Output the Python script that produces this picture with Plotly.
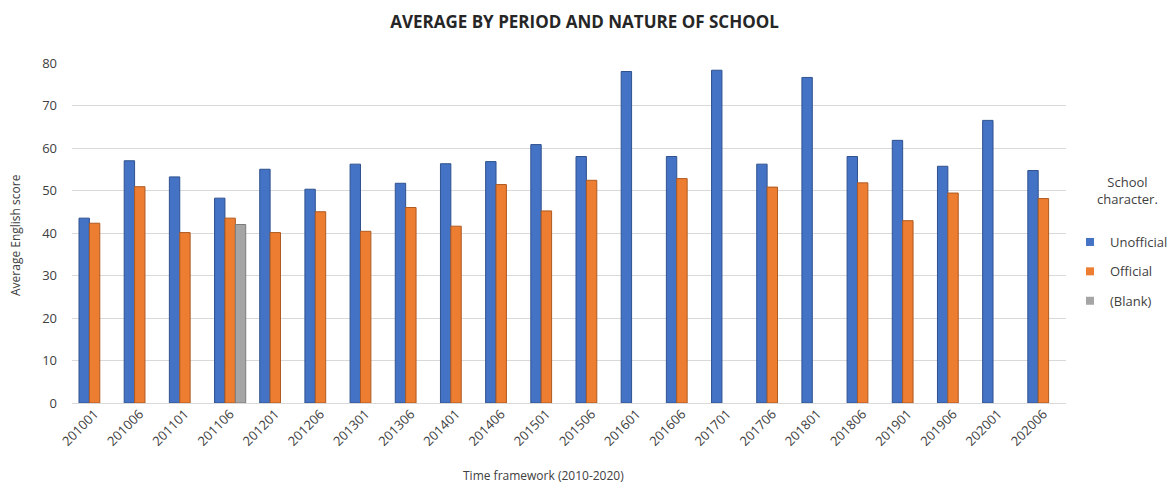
import plotly.graph_objects as go

# Exam periods (YYYYMM) along the category axis
periods = ["201001", "201006", "201101", "201106", "201201", "201206", "201301",
           "201306", "201401", "201406", "201501", "201506", "201601", "201606",
           "201701", "201706", "201801", "201806", "201901", "201906", "202001",
           "202006"]

# Average English score per school character
unofficial = [43.5, 57.0, 53.2, 48.2, 55.0, 50.3, 56.2, 51.7, 56.3, 56.8, 60.8,
              58.0, 78.0, 58.0, 78.3, 56.2, 76.6, 58.0, 61.8, 55.7, 66.5, 54.7]
official = [42.3, 50.9, 40.1, 43.5, 40.1, 45.0, 40.4, 46.0, 41.6, 51.4, 45.2,
            52.4, None, 52.8, None, 50.8, None, 51.8, 42.9, 49.4, None, 48.1]
blank = [None, None, None, 42.0, None, None, None, None, None, None, None,
         None, None, None, None, None, None, None, None, None, None, None]

series_names = ["Unofficial", "Official", "(Blank)"]
series_values = [unofficial, official, blank]
fill_colors = ["#4472C4", "#ED7D31", "#A5A5A5"]
edge_colors = ["#2F528F", "#AE5A21", "#7B7B7B"]

FONT = "Open Sans, Segoe UI, Arial, sans-serif"
TEXT = "#404040"

fig = go.Figure()

for name, vals, fc, ec in zip(series_names, series_values, fill_colors, edge_colors):
    fig.add_trace(go.Bar(
        x=periods, y=vals, name=name, showlegend=False,
        marker=dict(color=fc, line=dict(color=ec, width=1)),
        hoverinfo="x+y+name",
    ))

# Legend entries with small square swatches
for i, (name, fc) in enumerate(zip(series_names, fill_colors)):
    fig.add_trace(go.Scatter(
        x=[None], y=[None], mode="markers", name=name,
        legendgroup=f"g{i}",
        marker=dict(symbol="square", size=8, color=fc),
    ))

W, H = 1169, 485
L, R, T, B = 72, 103, 63, 82
pw = W - L - R
ph = H - T - B

def px_x(px):
    return (px - L) / pw

def px_y(py):
    return (H - B - py) / ph

fig.update_layout(
    width=W, height=H,
    margin=dict(l=L, r=R, t=T, b=B, autoexpand=False),
    paper_bgcolor="white", plot_bgcolor="white",
    font=dict(family=FONT, color=TEXT, size=12),
    barmode="group", bargap=0.31, bargroupgap=0,
    title=dict(
        text="<b>AVERAGE BY PERIOD AND NATURE OF SCHOOL</b>",
        x=0.5, xref="container", xanchor="center",
        y=1 - 22 / H, yref="container", yanchor="middle",
        font=dict(family=FONT, size=17, color="#262626"),
    ),
    xaxis=dict(
        type="category", tickangle=-45, showgrid=False, showline=False,
        zeroline=False, ticks="", tickfont=dict(size=13, color=TEXT),
    ),
    yaxis=dict(
        range=[0, 80], dtick=10, showgrid=True, gridcolor="#D9D9D9",
        gridwidth=1, zeroline=True, zerolinecolor="#D9D9D9", zerolinewidth=1,
        showline=False, ticks="", tickfont=dict(size=13, color=TEXT),
        ticklabelstandoff=14,
    ),
    legend=dict(
        x=px_x(1070), xanchor="left", y=px_y(227), yanchor="top",
        font=dict(size=13, color=TEXT), tracegroupgap=9.5,
        itemwidth=30, bgcolor="rgba(0,0,0,0)",
    ),
    annotations=[
        dict(text="School<br>character.", xref="paper", yref="paper",
             x=px_x(1127), y=px_y(190), xanchor="center", yanchor="middle",
             showarrow=False, font=dict(size=13, color=TEXT)),
        dict(text="Average English score", xref="paper", yref="paper",
             x=px_x(15), y=px_y(235), xanchor="center", yanchor="middle",
             textangle=-90, showarrow=False, font=dict(size=12, color=TEXT)),
        dict(text="Time framework (2010-2020)", xref="paper", yref="paper",
             x=px_x(543), y=px_y(476), xanchor="center", yanchor="middle",
             showarrow=False, font=dict(size=12, color=TEXT)),
    ],
)

fig.write_html("out.html")
